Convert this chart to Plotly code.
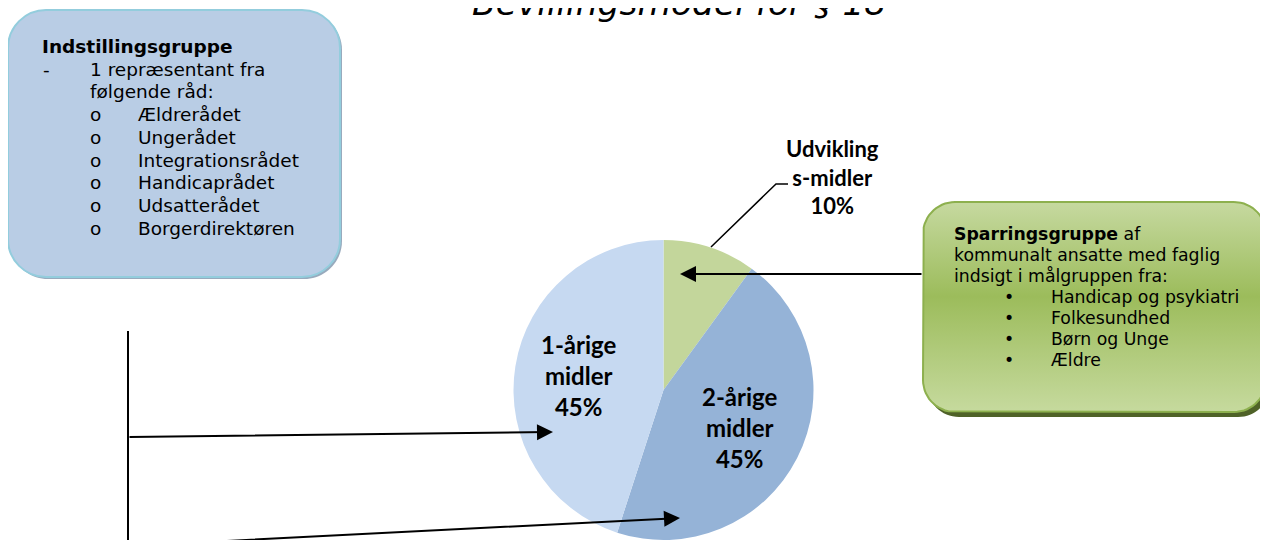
import numpy as np
import plotly.graph_objects as go

# ---------------- data ----------------
slice_labels = ["Udviklings-midler", "2-årige midler", "1-årige midler"]
slice_display = ["Udvikling<br>s-midler", "2-årige<br>midler", "1-årige<br>midler"]
slice_values = [10, 45, 45]
slice_colors = ["#C3D69B", "#95B3D7", "#C6D9F1"]

title_text = "Bevillingsmodel for § 18"

left_title = "Indstillingsgruppe"
left_intro = ["1 repræsentant fra", "følgende råd:"]
left_items = ["Ældrerådet", "Ungerådet", "Integrationsrådet", "Handicaprådet",
              "Udsatterådet", "Borgerdirektøren"]

right_title = "Sparringsgruppe"
right_intro = [" af", "kommunalt ansatte med faglig", "indsigt i målgruppen fra:"]
right_items = ["Handicap og psykiatri", "Folkesundhed", "Børn og Unge", "Ældre"]

W, H = 1268, 540
OFF = 8  # page body margin: figure starts 8px into the window
BOXFONT = "DejaVu Sans, Verdana, sans-serif"
LABFONT = "Lato, Calibri, sans-serif"


def rrect_path(x0, y0, x1, y1, r):
    k = 0.5523 * r
    return (f"M{x0+r},{y0} L{x1-r},{y0} C{x1-r+k},{y0} {x1},{y0+r-k} {x1},{y0+r} "
            f"L{x1},{y1-r} C{x1},{y1-r+k} {x1-r+k},{y1} {x1-r},{y1} "
            f"L{x0+r},{y1} C{x0+r-k},{y1} {x0},{y1-r+k} {x0},{y1-r} "
            f"L{x0},{y0+r} C{x0},{y0+r-k} {x0+r-k},{y0} {x0+r},{y0} Z")


def rrect_points(x0, y0, x1, y1, r, n=16):
    xs, ys = [], []
    corners = [(x1 - r, y0 + r, -90, 0), (x1 - r, y1 - r, 0, 90),
               (x0 + r, y1 - r, 90, 180), (x0 + r, y0 + r, 180, 270)]
    for cx, cy, a0, a1 in corners:
        t = np.radians(np.linspace(a0, a1, n))
        xs.extend(cx + r * np.cos(t))
        ys.extend(cy + r * np.sin(t))
    xs.append(xs[0]); ys.append(ys[0])
    return xs, ys


fig = go.Figure()

# right (green, gradient) box as filled scatter
gx0, gy0, gx1, gy1, gr = 923, 202, 1266, 412, 32
bx, by = rrect_points(gx0, gy0, gx1, gy1, gr)
fig.add_trace(go.Scatter(
    x=bx, y=by, mode="lines", fill="toself",
    line=dict(color="#8DB04E", width=2),
    fillgradient=dict(type="vertical", start=gy0, stop=gy1,
                      colorscale=[[0, "#C6D9A0"], [0.45, "#9CBC5B"], [1, "#C6DA9E"]]),
    hoverinfo="skip", showlegend=False))

# pie (centre 663.5, 390 ; radius 150 in window pixels)
pcx, pcy, pr = 663.5, 390, 150
fig.add_trace(go.Pie(
    labels=slice_labels, values=slice_values, sort=False, direction="clockwise",
    rotation=0, textinfo="none", hoverinfo="skip",
    marker=dict(colors=slice_colors, line=dict(width=0)),
    domain=dict(x=[(pcx - pr - OFF) / W, (pcx + pr - OFF) / W],
                y=[1 - (pcy + pr - OFF) / H, 1 - (pcy - pr - OFF) / H]),
    showlegend=False))

shapes = []
# left box shadow + box
shapes.append(dict(type="path", path=rrect_path(10, 12, 342, 279, 38), xref="x", yref="y",
                   fillcolor="#98AABD", line=dict(width=0), layer="below"))
shapes.append(dict(type="path", path=rrect_path(8, 10, 340, 277, 38), xref="x", yref="y",
                   fillcolor="#B9CDE5", line=dict(color="#93CDDD", width=2), layer="below"))
# right box shadow
shapes.append(dict(type="path", path=rrect_path(gx0 + 4, gy0 + 5, gx1 + 4, gy1 + 5, gr),
                   xref="x", yref="y", fillcolor="#4F6228", line=dict(width=0), layer="below"))
# vertical connector
shapes.append(dict(type="line", x0=128, y0=331, x1=128, y1=548, xref="x", yref="y",
                   line=dict(color="black", width=2), layer="above"))
# leader line for small slice label
shapes.append(dict(type="path", path="M711,247 L776,184 L788,184", xref="x", yref="y",
                   line=dict(color="black", width=1.5), layer="above"))

ann = []
# title (partly cut off at the top, as in the original)
ann.append(dict(text=title_text, x=679, y=24.5, xref="x", yref="y", xanchor="center",
                yanchor="bottom", showarrow=False, borderpad=0,
                font=dict(family=BOXFONT, size=34.5, color="black", style="italic")))


def txt(s, x, y, size, bold=False):
    return dict(text=(f"<b>{s}</b>" if bold else s), x=x, y=y, xref="x", yref="y",
                xanchor="left", yanchor="middle", showarrow=False, borderpad=0,
                font=dict(family=BOXFONT, size=size, color="black"))


# left box text
ls, l0, ld = 18.5, 46.5, 22.7
ann.append(txt(left_title, 41, l0, ls, bold=True))
ann.append(txt("-", 42, l0 + ld, ls))
for i, s in enumerate(left_intro):
    ann.append(txt(s, 89, l0 + ld * (1 + i), ls))
for i, s in enumerate(left_items):
    yy = l0 + ld * (3 + i)
    ann.append(txt("o", 89, yy, ls))
    ann.append(txt(s, 137, yy, ls))

# right box text
rs, r0, rd = 17.3, 233.5, 21.1
ann.append(txt(f"<b>{right_title}</b>{right_intro[0]}", 953, r0, rs))
for i, s in enumerate(right_intro[1:]):
    ann.append(txt(s, 953, r0 + rd * (1 + i), rs))
for i, s in enumerate(right_items):
    yy = r0 + rd * (3 + i)
    ann.append(txt("•", 1003, yy, rs))
    ann.append(txt(s, 1050, yy, rs))

# pie labels (text built from the data)
label_pos = [(832, 177, 22), (740, 427, 24), (579, 375, 24)]
for disp, v, (lx, ly, fs) in zip(slice_display, slice_values, label_pos):
    ann.append(dict(text=f"<b>{disp}<br>{v}%</b>", x=lx, y=ly, xref="x", yref="y",
                    xanchor="center", yanchor="middle", showarrow=False, align="center",
                    font=dict(family=LABFONT, size=fs, color="black")))


def arrow(x0, y0, x1, y1):
    return dict(text="", x=x1, y=y1, ax=x0, ay=y0, xref="x", yref="y", axref="x", ayref="y",
                showarrow=True, arrowhead=2, arrowsize=1.6, arrowwidth=2,
                arrowcolor="black", standoff=0, startstandoff=0)


ann.append(arrow(923, 274, 680, 274))
ann.append(arrow(128, 437, 553, 432))
ann.append(arrow(128, 546, 680, 518))

fig.update_layout(
    width=W, height=H, margin=dict(l=0, r=0, t=0, b=0),
    paper_bgcolor="white", plot_bgcolor="white",
    xaxis=dict(range=[OFF, W + OFF], visible=False, fixedrange=True, domain=[0, 1]),
    yaxis=dict(range=[H + OFF, OFF], visible=False, fixedrange=True, domain=[0, 1]),
    shapes=shapes, annotations=ann, showlegend=False,
)

fig.write_html("out.html")
